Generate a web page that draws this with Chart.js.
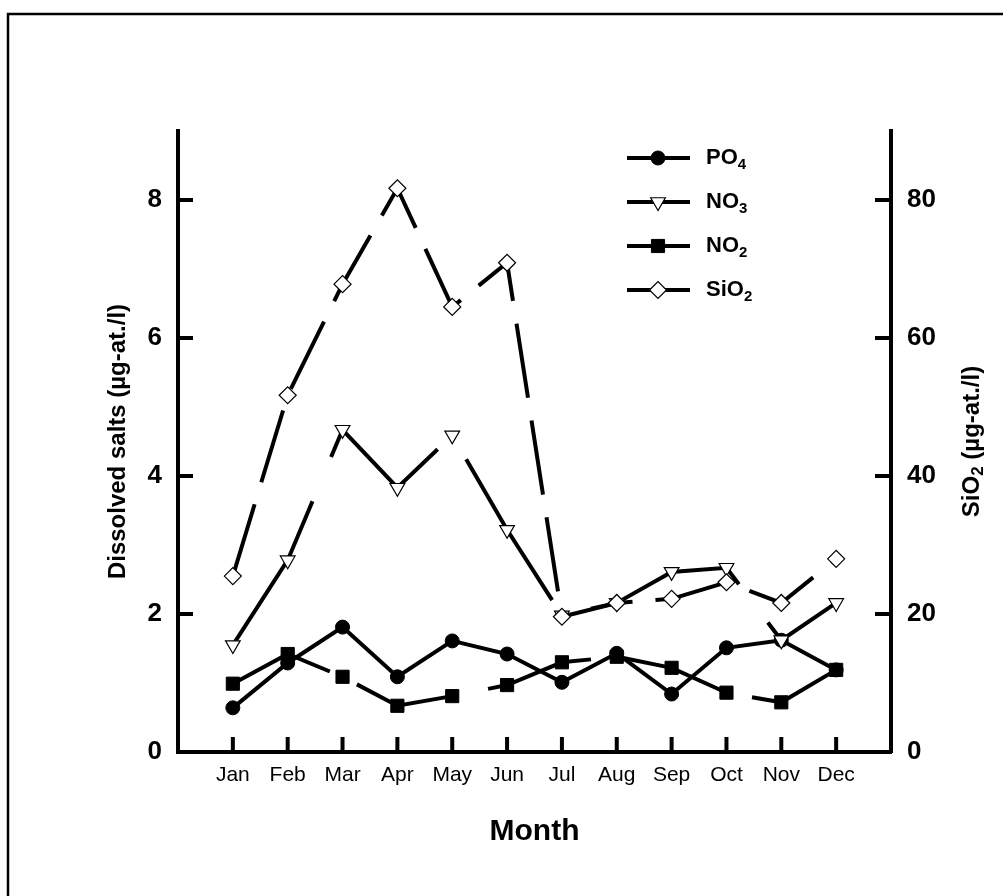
<!DOCTYPE html>
<html>
<head>
<meta charset="utf-8">
<script src="https://cdn.jsdelivr.net/npm/chart.js@4.4.1/dist/chart.umd.min.js"></script>
<style>
  html, body { margin: 0; padding: 0; background: #fff; }
</style>
</head>
<body>
<canvas id="chart" width="1003" height="896"></canvas>
<script>
// monthly values
const months = ['Jan', 'Feb', 'Mar', 'Apr', 'May', 'Jun', 'Jul', 'Aug', 'Sep', 'Oct', 'Nov', 'Dec'];
const po4  = [0.64, 1.29, 1.81, 1.09, 1.61, 1.42, 1.01, 1.43, 0.84, 1.51, 1.62, 1.19];
const no3  = [1.55, 2.78, 4.67, 3.83, 4.59, 3.22, 1.98, 2.16, 2.61, 2.67, 1.62, 2.16];
const no2  = [0.99, 1.42, 1.09, 0.67, 0.81, 0.97, 1.30, 1.38, 1.22, 0.86, 0.72, 1.19];
const sio2 = [25.5, 51.7, 67.8, 81.7, 64.5, 70.9, 19.6, 21.6, 22.2, 24.6, 21.6, 28.0];
const leftTicks = [0, 2, 4, 6, 8];
const rightTicks = [0, 20, 40, 60, 80];

const FONT = '"Liberation Sans", Arial, sans-serif';

function pts(arr) {
    return arr.map((v, i) => ({ x: i + 1, y: v }));
}

// legend names: main part + subscript
const legendNames = [['PO', '4'], ['NO', '3'], ['NO', '2'], ['SiO', '2']];

function drawSub(ctx, main, sub, x, y, size, subSize, dy) {
    ctx.font = 'bold ' + size + 'px ' + FONT;
    ctx.fillText(main, x, y);
    const w = ctx.measureText(main).width;
    ctx.font = 'bold ' + subSize + 'px ' + FONT;
    ctx.fillText(sub, x + w, y + dy);
    return w + ctx.measureText(sub).width;
}

const framePlugin = {
    id: 'frame',
    beforeDraw(chart) {
        const ctx = chart.ctx;
        ctx.save();
        ctx.fillStyle = '#fff';
        ctx.fillRect(0, 0, chart.width, chart.height);
        ctx.strokeStyle = '#000';
        ctx.lineWidth = 2.5;
        ctx.beginPath();
        ctx.moveTo(8, 1000);
        ctx.lineTo(8, 14);
        ctx.lineTo(1100, 14);
        ctx.stroke();
        ctx.restore();
    }
};

// inward tick marks + right title + legend
const extrasPlugin = {
    id: 'extras',
    afterDatasetsDraw(chart) {
        const ctx = chart.ctx;
        const x = chart.scales.x, y = chart.scales.y, y2 = chart.scales.y2;
        const area = chart.chartArea;
        ctx.save();
        ctx.strokeStyle = '#000';
        ctx.lineWidth = 4;
        ctx.beginPath();
        months.forEach((m, i) => {
            const px = x.getPixelForValue(i + 1);
            ctx.moveTo(px, area.bottom);
            ctx.lineTo(px, area.bottom - 15);
        });
        leftTicks.forEach(v => {
            const py = y.getPixelForValue(v);
            ctx.moveTo(area.left, py);
            ctx.lineTo(area.left + 15, py);
        });
        rightTicks.forEach(v => {
            const py = y2.getPixelForValue(v);
            ctx.moveTo(area.right, py);
            ctx.lineTo(area.right - 16, py);
        });
        ctx.stroke();

        // right axis title, reads bottom to top
        ctx.fillStyle = '#000';
        ctx.textBaseline = 'middle';
        ctx.textAlign = 'left';
        ctx.translate(972, (area.top + area.bottom) / 2);
        ctx.rotate(-Math.PI / 2);
        ctx.font = 'bold 24px ' + FONT;
        let total = ctx.measureText('SiO').width + ctx.measureText(' (µg-at./l)').width;
        ctx.font = 'bold 17px ' + FONT;
        total += ctx.measureText('2').width;
        let tx = -total / 2;
        tx += drawSub(ctx, 'SiO', '2', tx, 0, 24, 17, 6);
        ctx.font = 'bold 24px ' + FONT;
        ctx.fillText(' (µg-at./l)', tx, 0);
        ctx.restore();

        // legend
        ctx.save();
        chart.data.datasets.forEach((ds, i) => {
            const ly = 158 + i * 44;
            ctx.strokeStyle = '#000';
            ctx.lineWidth = 4;
            ctx.beginPath();
            ctx.moveTo(627, ly);
            ctx.lineTo(690, ly);
            ctx.stroke();
            ctx.fillStyle = ds.pointBackgroundColor;
            ctx.strokeStyle = '#000';
            ctx.lineWidth = ds.pointBorderWidth;
            Chart.helpers.drawPoint(ctx, {
                pointStyle: ds.pointStyle,
                radius: ds.pointRadius,
                rotation: ds.pointRotation || 0,
                borderWidth: ds.pointBorderWidth
            }, 658, ly);
            ctx.fillStyle = '#000';
            ctx.textBaseline = 'middle';
            ctx.textAlign = 'left';
            drawSub(ctx, legendNames[i][0], legendNames[i][1], 706, ly, 22, 15, 7);
        });
        ctx.restore();
    }
};

const ctx = document.getElementById('chart').getContext('2d');
new Chart(ctx, {
    type: 'line',
    data: {
        datasets: [
            {
                label: 'PO4',
                data: pts(po4),
                yAxisID: 'y',
                borderColor: '#000',
                borderWidth: 4,
                pointStyle: 'circle',
                pointRadius: 7,
                pointBackgroundColor: '#000',
                pointBorderColor: '#000',
                pointBorderWidth: 1,
                order: 3
            },
            {
                label: 'NO3',
                data: pts(no3),
                yAxisID: 'y',
                borderColor: '#000',
                borderWidth: 4,
                borderDash: [165, 48],
                pointStyle: 'triangle',
                pointRotation: 180,
                pointRadius: 8.5,
                pointBackgroundColor: '#fff',
                pointBorderColor: '#000',
                pointBorderWidth: 1.2,
                order: 1
            },
            {
                label: 'NO2',
                data: pts(no2),
                yAxisID: 'y',
                borderColor: '#000',
                borderWidth: 4,
                borderDash: [108, 30],
                pointStyle: 'rect',
                pointRadius: 9.3,
                pointBackgroundColor: '#000',
                pointBorderColor: '#000',
                pointBorderWidth: 1,
                order: 2
            },
            {
                label: 'SiO2',
                data: pts(sio2),
                yAxisID: 'y2',
                borderColor: '#000',
                borderWidth: 4,
                borderDash: [75, 23],
                pointStyle: 'rectRot',
                pointRadius: 8.5,
                pointBackgroundColor: '#fff',
                pointBorderColor: '#000',
                pointBorderWidth: 1.2,
                order: 0
            }
        ]
    },
    options: {
        responsive: false,
        animation: false,
        devicePixelRatio: 1,
        layout: { padding: { top: 131, left: 0, right: 0, bottom: 0 } },
        plugins: {
            legend: { display: false },
            tooltip: { enabled: false }
        },
        scales: {
            x: {
                type: 'linear',
                min: 0,
                max: 13,
                afterFit: s => { s.height = 144; },
                afterBuildTicks: s => { s.ticks = months.map((m, i) => ({ value: i + 1 })); },
                ticks: {
                    autoSkip: false,
                    maxRotation: 0,
                    padding: 11,
                    color: '#000',
                    font: { family: FONT, size: 21 },
                    callback: v => months[v - 1] || ''
                },
                grid: { display: false, drawTicks: false },
                border: { display: true, color: '#000', width: 4 },
                title: {
                    display: true,
                    text: 'Month',
                    color: '#000',
                    font: { family: FONT, size: 30, weight: 'bold' },
                    padding: { top: 0, bottom: 46 }
                }
            },
            y: {
                position: 'left',
                min: 0,
                max: 9,
                afterFit: s => { s.width = 178; },
                afterBuildTicks: s => { s.ticks = leftTicks.map(v => ({ value: v })); },
                ticks: {
                    padding: 16,
                    color: '#000',
                    font: { family: FONT, size: 26, weight: 'bold' }
                },
                grid: { display: false, drawTicks: false },
                border: { display: true, color: '#000', width: 4 },
                title: {
                    display: true,
                    text: 'Dissolved salts (µg-at./l)',
                    color: '#000',
                    font: { family: FONT, size: 24, weight: 'bold' },
                    padding: { top: 104, bottom: 0 }
                }
            },
            y2: {
                position: 'right',
                min: 0,
                max: 90,
                afterFit: s => { s.width = 112; },
                afterBuildTicks: s => { s.ticks = rightTicks.map(v => ({ value: v })); },
                ticks: {
                    padding: 16,
                    color: '#000',
                    font: { family: FONT, size: 26, weight: 'bold' }
                },
                grid: { display: false, drawTicks: false },
                border: { display: true, color: '#000', width: 4 }
            }
        }
    },
    plugins: [framePlugin, extrasPlugin]
});
</script>
</body>
</html>
